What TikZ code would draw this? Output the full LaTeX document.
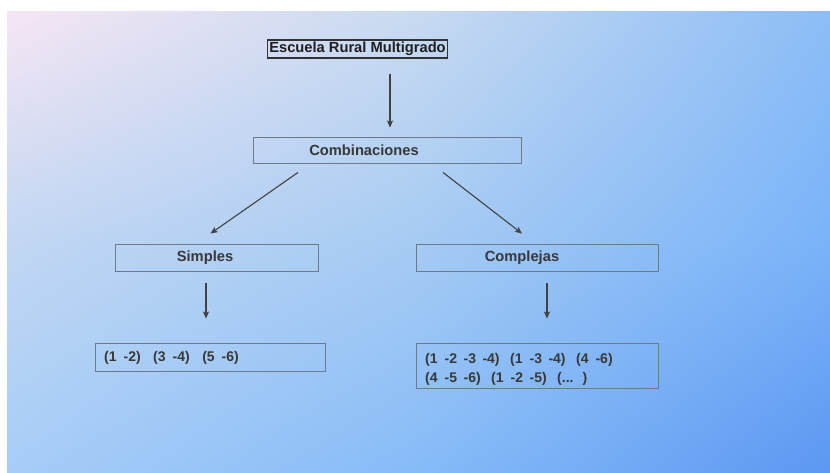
\documentclass[tikz,border=0pt]{standalone}
\usepackage{fontspec}
\setmainfont{Liberation Sans}
\usetikzlibrary{arrows.meta,shadings}
\definecolor{gA}{HTML}{F6E6F4}
\definecolor{gB}{HTML}{C8DAF1}
\definecolor{gC}{HTML}{8CBDF6}
\definecolor{gD}{HTML}{C2D7F3}
\definecolor{gE}{HTML}{A6CBF3}
\definecolor{gF}{HTML}{7AB3F9}
\definecolor{gG}{HTML}{A7CDF7}
\definecolor{gH}{HTML}{86BBF8}
\definecolor{gI}{HTML}{5C97F2}
\definecolor{boxline}{HTML}{6B7B8B}
\definecolor{txt}{HTML}{383838}
\definecolor{arrcol}{HTML}{424242}
\tikzset{
  x=1pt, y=-1pt,
  box/.style={draw=boxline, line width=0.9pt, inner sep=0pt, anchor=center},
  lbl/.style={font=\fontsize{14.7}{17}\selectfont\bfseries, text=txt, inner sep=0pt, anchor=center},
  combo/.style={font=\fontsize{14}{19}\selectfont\bfseries, text=txt, inner sep=0pt, anchor=west, align=left},
  arr/.style={draw=arrcol, line width=1.1pt, -{Stealth[length=7pt,width=6pt,inset=1.5pt]}},
}
\newcommand\dgap{\hspace{6.5pt}}
\newcommand\ogap{\hspace{7pt}}
\begin{document}
\begin{tikzpicture}
\useasboundingbox (0,0) rectangle (830,472);
\fill[white] (0,0) rectangle (830,472);
% piecewise bilinear background
\shade[upper left=gA, upper right=gB, lower left=gD, lower right=gE] (7,11) rectangle (418.8,241.8);
\shade[upper left=gB, upper right=gC, lower left=gE, lower right=gF] (418.2,11) rectangle (830,241.8);
\shade[upper left=gD, upper right=gE, lower left=gG, lower right=gH] (7,241.2) rectangle (418.8,472);
\shade[upper left=gE, upper right=gF, lower left=gH, lower right=gI] (418.2,241.2) rectangle (830,472);

% top node
\node[draw=black!80, line width=1.4pt, inner xsep=1.5pt, inner ysep=2pt, font=\fontsize{14.7}{17}\selectfont\bfseries, text=black!88] (esc) at (357.5,49) {Escuela Rural Multigrado};

% combinaciones
\node[box, minimum width=268pt, minimum height=26pt] (comb) at (387,150) {};
\node[lbl] (combt) at (364,150) {Combinaciones};

% simples / complejas
\node[box, minimum width=203pt, minimum height=27pt] (simp) at (216.5,257.5) {};
\node[lbl] (simpt) at (205,257.5) {Simples};
\node[box, minimum width=242pt, minimum height=27pt] (comp) at (537,257.5) {};
\node[lbl] (compt) at (522,257.5) {Complejas};

% combination boxes
\node[box, minimum width=230pt, minimum height=28pt] (sc) at (210,357) {};
\node[combo] (sct) at (104,357.5) {(1\ogap-2)\hspace{12.5pt}(3\ogap-4)\hspace{12.5pt}(5\ogap-6)};
\node[box, minimum width=242pt, minimum height=45pt] (cc) at (537,365.5) {};
\node[combo] (cct) at (425,369) {(1\ogap-2\dgap-3\dgap-4)\hspace{10.5pt}(1\ogap-3\dgap-4)\hspace{10.5pt}(4\ogap-6)\\
(4\ogap-5\dgap-6)\hspace{10.5pt}(1\ogap-2\dgap-5)\hspace{10.5pt}(...\hspace{9pt})};

% arrows
\draw[arr] ([xshift=32.5pt,yshift=-15pt]esc.south) -- ([xshift=3pt,yshift=9pt]comb.north);
\draw[arr] ([xshift=-89pt,yshift=-9pt]comb.south) -- ([xshift=-6pt,yshift=10pt]simp.north);
\draw[arr] ([xshift=56pt,yshift=-9pt]comb.south) -- ([xshift=-15pt,yshift=10pt]comp.north);
\draw[arr] ([xshift=-10.5pt,yshift=-12pt]simp.south) -- ([xshift=-4pt,yshift=24pt]sc.north);
\draw[arr] ([xshift=10pt,yshift=-12pt]comp.south) -- ([xshift=10pt,yshift=24pt]cc.north);
\end{tikzpicture}
\end{document}
